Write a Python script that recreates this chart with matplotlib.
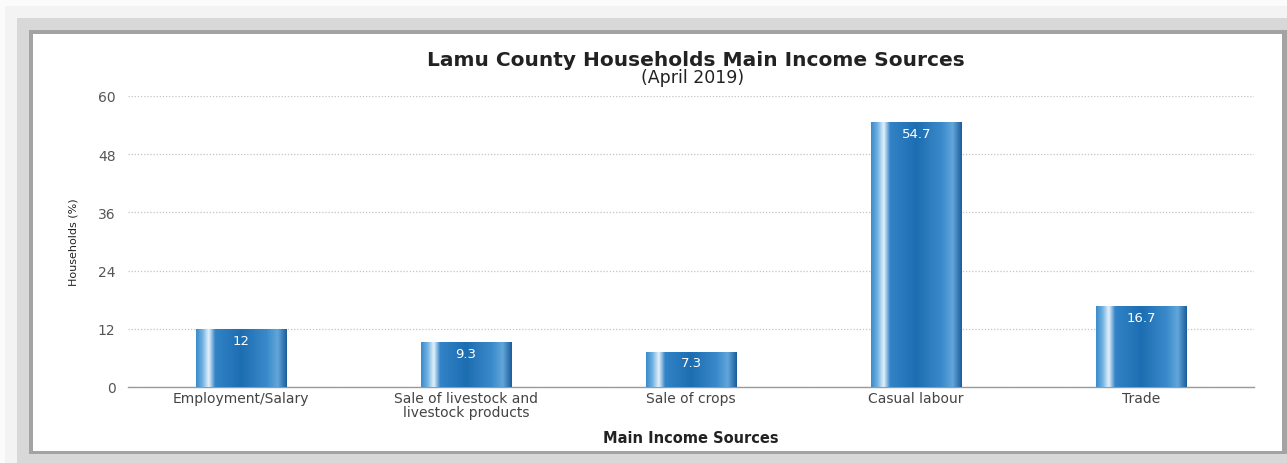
import numpy as np
import matplotlib.pyplot as plt
from matplotlib.patches import Rectangle
from matplotlib.colors import LinearSegmentedColormap

plt.rcParams['font.family'] = ['DejaVu Sans']

sources = ["Employment/Salary", "Sale of livestock and\nlivestock products",
           "Sale of crops", "Casual labour", "Trade"]
households = [12, 9.3, 7.3, 54.7, 16.7]
value_labels = ["12", "9.3", "7.3", "54.7", "16.7"]
y_ticks = [0, 12, 24, 36, 48, 60]

W, H = 1287, 464

# cylinder-like shading across each bar
bar_cmap = LinearSegmentedColormap.from_list("bar", [
    (0.00, "#3a8bcb"), (0.07, "#6fb1e2"), (0.14, "#e4f2fb"), (0.21, "#3283c6"),
    (0.50, "#1d6db2"), (0.78, "#3a8acb"), (0.90, "#62a6da"), (1.00, "#1a5d9b")])


def px_rect(x0, y0, x1, y1, color):
    # rectangle in pixel coords measured from the top-left corner
    return Rectangle((x0 / W, 1 - y1 / H), (x1 - x0) / W, (y1 - y0) / H,
                     transform=fig.transFigure, facecolor=color,
                     edgecolor="none", zorder=-10)


fig = plt.figure(figsize=(W / 100, H / 100), dpi=100)
fig.patch.set_facecolor("#fbfbfb")

# framed panel with a soft shadow
for r in [(5, 7, W, H, "#f3f3f3"), (17, 19, W, H, "#d8d8d8"),
          (29, 31, W, 455, "#a3a3a3"), (33, 35, 1282, 452, "white")]:
    fig.add_artist(px_rect(*r))

ax = fig.add_axes([128 / W, 1 - 388 / H, (1254 - 128) / W, (388 - 97) / H])
ax.set_facecolor("none")

x = np.arange(len(sources))
bars = ax.bar(x, households, width=0.4, color="none", zorder=3)
grad = np.linspace(0, 1, 256).reshape(1, -1)
for b, lab in zip(bars, value_labels):
    x0, w, h = b.get_x(), b.get_width(), b.get_height()
    im = ax.imshow(grad, cmap=bar_cmap, aspect="auto", zorder=3,
                   extent=[x0, x0 + w, 0, h], interpolation="bilinear")
    im.set_clip_path(b)
    ax.text(x0 + w / 2, h - 1.0, lab, ha="center", va="top", color="white",
            fontsize=9.5, zorder=4)

ax.set_xlim(-0.5, 4.5)
ax.set_ylim(0, 60)
ax.set_yticks(y_ticks)
ax.set_xticks(x)
ax.set_xticklabels(sources, linespacing=0.95)
ax.tick_params(axis="y", length=0, pad=9, labelsize=10, labelcolor="#555555")
ax.tick_params(axis="x", length=0, pad=3, labelsize=10, labelcolor="#444444")
ax.yaxis.grid(True, linestyle=(0, (1, 1.5)), color="#c4c4c4", linewidth=0.9)
ax.set_axisbelow(True)
for s in ["left", "right", "top"]:
    ax.spines[s].set_visible(False)
ax.spines["bottom"].set_color("#9a9a9a")
ax.spines["bottom"].set_linewidth(1)

ax.set_xlabel("Main Income Sources", fontsize=10.5, fontweight="bold",
              color="#222222", labelpad=8)
ax.set_ylabel("Households (%)", fontsize=8, color="#222222", labelpad=14)

fig.text(0.5405, 1 - 60 / H, "Lamu County Households Main Income Sources",
         ha="center", va="center", fontsize=14.5, fontweight="bold", color="#222222")
fig.text(0.5385, 1 - 78 / H, "(April 2019)", ha="center", va="center",
         fontsize=12.5, color="#222222")

fig.savefig("out.png", dpi=100)
